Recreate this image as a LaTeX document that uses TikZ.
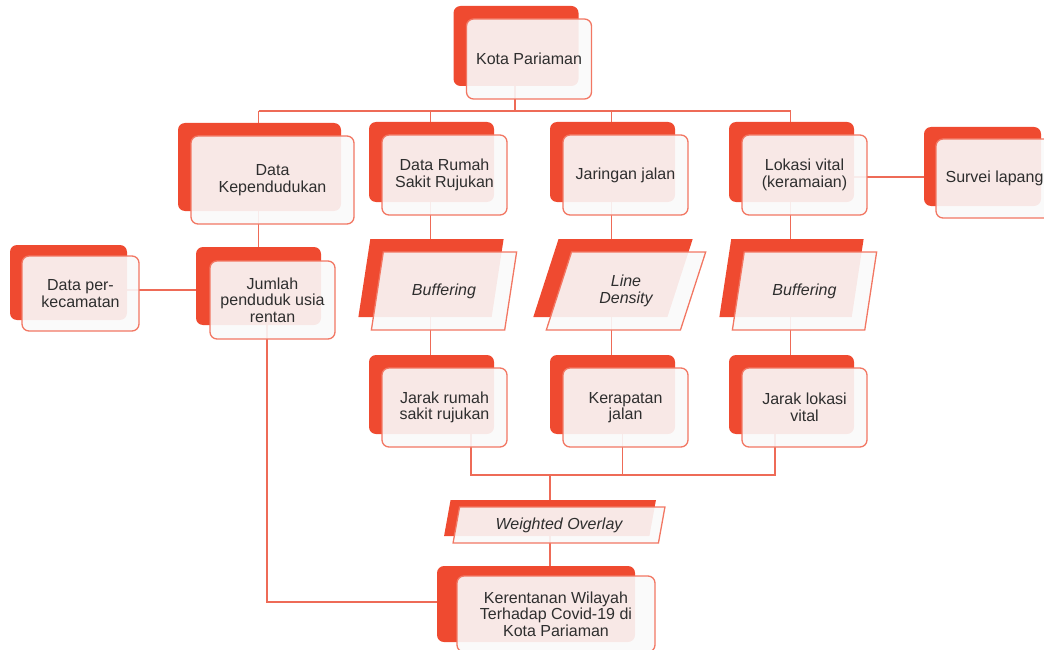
\documentclass[tikz,border=0pt]{standalone}
\usepackage{fontspec}
\setmainfont{Liberation Sans}
\usetikzlibrary{shapes.geometric,shadows,backgrounds}
\definecolor{backred}{HTML}{EF4A30}
\definecolor{edgered}{HTML}{F27763}
\definecolor{linered}{HTML}{EE6B57}
\definecolor{frontfill}{HTML}{FAFAFA}
\definecolor{textgray}{HTML}{2E2E2E}
\tikzset{
 backcard/.style={fill=backred,draw=none,fill opacity=1,shadow xshift=-13pt,shadow yshift=13pt},
 card/.style={draw=edgered,line width=1.3pt,fill=frontfill,fill opacity=0.9,text opacity=1,text=textgray,rounded corners=7pt,align=center,minimum width=125pt,minimum height=80pt,inner sep=2pt,copy shadow={backcard}},
 proc/.style={trapezium,trapezium left angle=69,trapezium right angle=111,trapezium stretches=true,draw=edgered,line width=1.3pt,fill=frontfill,fill opacity=0.9,text opacity=1,text=textgray,align=center,minimum height=78pt,inner sep=1pt,font=\fontsize{16}{16.5}\selectfont\itshape,copy shadow={backcard}},
 link/.style={draw=linered,line width=1.2pt}
}
\begin{document}
\begin{tikzpicture}[x=1pt,y=-1pt,font=\fontsize{16}{16.5}\selectfont]
\useasboundingbox (0,0) rectangle (1044,650);
\node[card] (kota) at (529,59) {Kota Pariaman};
\node[card,minimum width=163pt,minimum height=88pt] (kepend) at (272.5,180) {Data\\Kependudukan};
\node[card] (rs) at (444.5,175) {Data Rumah\\Sakit Rujukan};
\node[card] (jalan) at (625.5,175) {Jaringan jalan};
\node[card] (lokasi) at (804.5,175) {Lokasi vital\\(keramaian)};
\node[card,minimum width=117pt,minimum height=79pt,backcard/.append style={shadow xshift=-12pt,shadow yshift=12pt}] (survei) at (994.5,178.5) {Survei lapang};
\node[card,minimum width=117pt,minimum height=75pt,backcard/.append style={shadow xshift=-12pt,shadow yshift=11pt}] (perkec) at (80.5,293.5) {Data per-\\kecamatan};
\node[card,minimum height=78pt,backcard/.append style={shadow xshift=-14pt,shadow yshift=14pt}] (jumlah) at (272.5,300) {Jumlah\\penduduk usia\\rentan};
\node[proc,minimum width=146pt] (buff1) at (444,291) {Buffering};
\node[proc,minimum width=160pt] (dens) at (626,291) {Line\\Density};
\node[proc,minimum width=145pt] (buff2) at (804.5,291) {Buffering};
\node[card,minimum height=79pt] (jarakrs) at (444.5,407.5) {Jarak rumah\\sakit rujukan};
\node[card,minimum height=79pt] (kerapatan) at (625.5,407.5) {Kerapatan\\jalan};
\node[card,minimum height=79pt] (jarakvital) at (804.5,407.5) {Jarak lokasi\\vital};
\node[proc,trapezium left angle=76,trapezium right angle=104,minimum width=212pt,minimum height=36pt,backcard/.append style={shadow xshift=-9pt,shadow yshift=7pt}] (overlay) at (559,525) {Weighted Overlay};
\node[card,minimum width=198pt,minimum height=76pt,backcard/.append style={shadow xshift=-20pt,shadow yshift=10pt}] (rentan) at (556,614) {Kerentanan Wilayah\\Terhadap Covid-19 di\\Kota Pariaman};
\begin{pgfonlayer}{background}
\coordinate (bus) at (0,111); \coordinate (bus2) at (0,475);
\draw[link] ([xshift=-14pt]kota.center) -- ([xshift=-14pt]kota.center |- bus);
\draw[link] ([xshift=-14pt]kepend.center |- bus) -- ([xshift=-14pt]lokasi.center |- bus);
\foreach \n in {kepend,rs,jalan,lokasi} \draw[link] ([xshift=-14pt]\n.center |- bus) -- ([xshift=-14pt]\n.center);
\draw[link] ([yshift=-2pt]lokasi.center) -- ([yshift=-2pt]lokasi.center -| survei.center);
\draw[link] ([xshift=-14pt]kepend.center) -- ([xshift=-14pt]jumlah.center);
\draw[link] ([yshift=3.5pt]perkec.center) -- ([yshift=3.5pt]perkec.center -| jumlah.center);
\foreach \a/\b in {rs/jarakrs,jalan/kerapatan,lokasi/jarakvital} \draw[link] ([xshift=-14pt]\a.center) -- ([xshift=-14pt]\b.center);
\draw[link] ([xshift=-5.5pt]jumlah.center) |- ([yshift=12pt]rentan.center);
\draw[link] ([xshift=26.5pt]jarakrs.center) |- ([xshift=-29.5pt]jarakvital.center |- bus2) -- ([xshift=-29.5pt]jarakvital.center);
\draw[link] ([xshift=-3pt]kerapatan.center) -- ([xshift=-3pt]kerapatan.center |- bus2);
\draw[link] ([xshift=-9pt]overlay.center |- bus2) -- ([xshift=-9pt]overlay.center |- rentan.center);
\end{pgfonlayer}
\end{tikzpicture}
\end{document}
